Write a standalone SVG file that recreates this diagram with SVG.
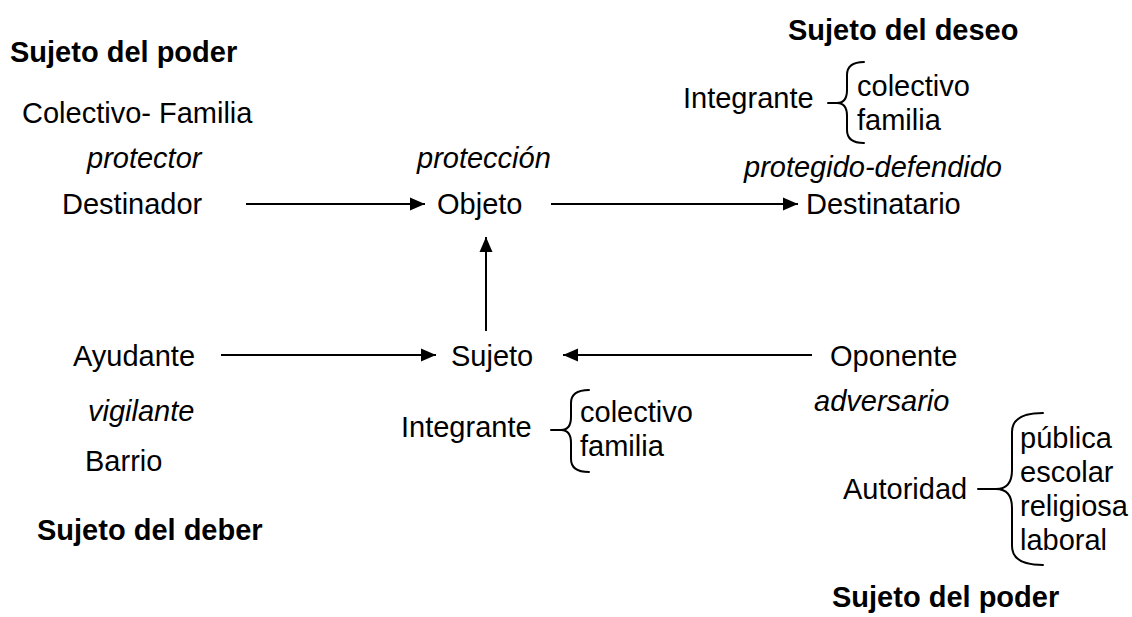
<svg xmlns="http://www.w3.org/2000/svg" width="1132" height="617" viewBox="0 0 1132 617">
<style>
text{font-family:"Liberation Sans",Arial,sans-serif;font-size:29px;fill:#000}
.b{font-weight:bold}
.i{font-style:italic}
.c{stroke:#000;stroke-width:2;fill:none}
.br{stroke:#000;stroke-width:2;fill:none;stroke-linecap:round}
</style>
<defs>
<marker id="ah" markerWidth="16" markerHeight="14" refX="15" refY="7" orient="auto" markerUnits="userSpaceOnUse">
<path d="M0,0.5 L15,7 L0,13.5 Z" fill="#000"/>
</marker>
</defs>
<rect width="1132" height="617" fill="#fff"/>
<g id="labels">
<text class="b" x="10" y="62">Sujeto del poder</text>
<text class="b" x="788" y="40">Sujeto del deseo</text>
<text class="b" x="37" y="540">Sujeto del deber</text>
<text class="b" x="832" y="607">Sujeto del poder</text>
</g>
<g id="destinador">
<text x="22" y="123">Colectivo- Familia</text>
<text class="i" x="87" y="168">protector</text>
<text x="62" y="214">Destinador</text>
</g>
<g id="objeto">
<text class="i" x="417" y="168">protección</text>
<text x="437" y="214">Objeto</text>
</g>
<g id="destinatario">
<text x="683" y="108">Integrante</text>
<path class="br" d="M864,62 Q847,62 847,75 V90 Q847,103 837,103 H828 M837,103 Q847,103 847,116 V130 Q847,143 864,143"/>
<text x="857" y="96">colectivo</text>
<text x="857" y="130">familia</text>
<text class="i" x="744" y="177">protegido-defendido</text>
<text x="806" y="214">Destinatario</text>
</g>
<g id="ayudante">
<text x="73" y="366">Ayudante</text>
<text class="i" x="88" y="421">vigilante</text>
<text x="85" y="471">Barrio</text>
</g>
<g id="sujeto">
<text x="451" y="366">Sujeto</text>
<text x="401" y="437">Integrante</text>
<path class="br" d="M589,390 Q571,390 571,403 V417 Q571,430 561,430 H551 M561,430 Q571,430 571,443 V459 Q571,472 589,472"/>
<text x="580" y="422">colectivo</text>
<text x="580" y="456">familia</text>
</g>
<g id="oponente">
<text x="830" y="366">Oponente</text>
<text class="i" x="814" y="411">adversario</text>
<text x="843" y="499">Autoridad</text>
<path class="br" d="M1043,413 Q1012,413 1012,432 V470 Q1012,489 996,489 H978 M996,489 Q1012,489 1012,508 V546 Q1012,565 1043,565"/>
<text x="1020" y="448">pública</text>
<text x="1020" y="482">escolar</text>
<text x="1020" y="516">religiosa</text>
<text x="1020" y="550">laboral</text>
</g>
<g id="connectors">
<line class="c" x1="246" y1="204" x2="425" y2="204" marker-end="url(#ah)"/>
<line class="c" x1="551" y1="204" x2="798" y2="204" marker-end="url(#ah)"/>
<line class="c" x1="486" y1="331" x2="486" y2="237" marker-end="url(#ah)"/>
<line class="c" x1="221" y1="355" x2="436" y2="355" marker-end="url(#ah)"/>
<line class="c" x1="812" y1="355" x2="563" y2="355" marker-end="url(#ah)"/>
</g>
</svg>
